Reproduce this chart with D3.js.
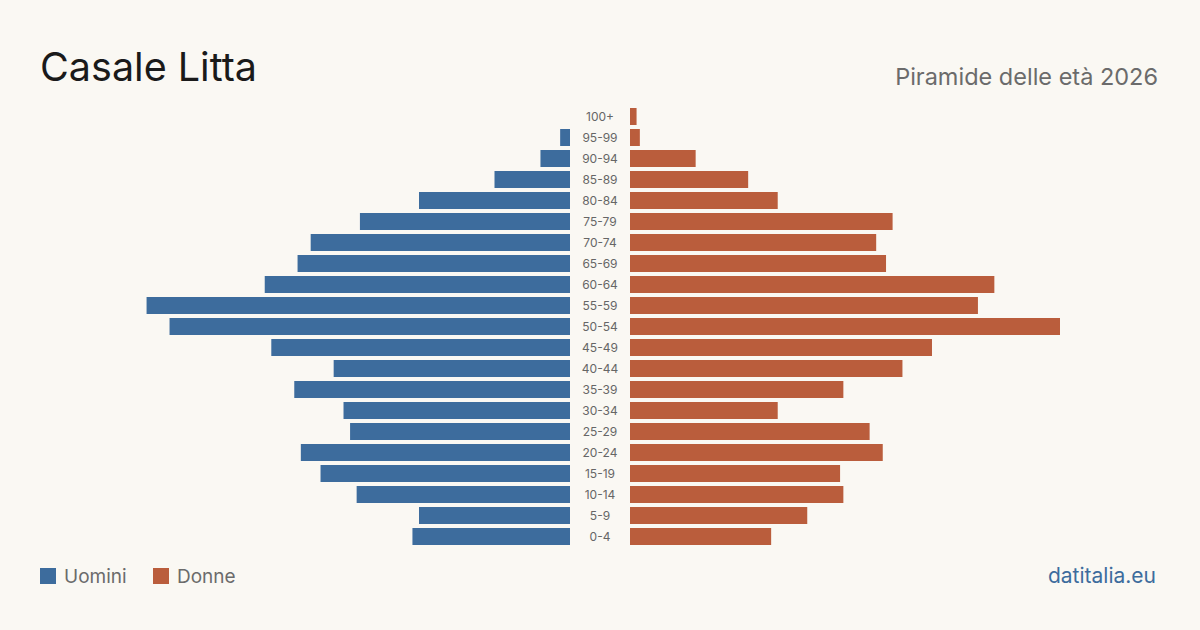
<!DOCTYPE html>
<html>
<head>
<meta charset="utf-8">
<script src="https://cdn.jsdelivr.net/npm/d3@7/dist/d3.min.js"></script>
<style>
  html, body { margin: 0; padding: 0; background: #faf8f3; }
  svg { display: block; }
  text { font-family: Inter, "Open Sans", sans-serif; }
</style>
</head>
<body>
<svg id="chart" width="1200" height="630"></svg>
<script>
const ages = ["100+","95-99","90-94","85-89","80-84","75-79","70-74","65-69","60-64","55-59","50-54","45-49","40-44","35-39","30-34","25-29","20-24","15-19","10-14","5-9","0-4"];
const maleValues = [0,3,9,23,46,64,79,83,93,129,122,91,72,84,69,67,82,76,65,46,48];
const femaleValues = [2,3,20,36,45,80,75,78,111,106,131,92,83,65,45,73,77,64,65,54,43];
const legendLabels = ["Uomini","Donne"];
const titleText = "Casale Litta";
const subtitleText = "Piramide delle età 2026";
const sourceText = "datitalia.eu";

const blue = "#3d6c9d", red = "#ba5d3c";
const svg = d3.select("#chart");
svg.append("rect").attr("width",1200).attr("height",630).attr("fill","#faf8f3");

const maxV = d3.max([...maleValues, ...femaleValues]);
const xL = d3.scaleLinear().domain([0, maxV]).range([570, 140]);
const xR = d3.scaleLinear().domain([0, maxV]).range([630, 1060]);
const y = d3.scaleBand().domain(ages).range([106, 547]).paddingInner(4/21).paddingOuter(2/21);

svg.append("g").selectAll("rect").data(ages).join("rect")
  .attr("x", (d,i) => xL(maleValues[i]))
  .attr("y", d => y(d))
  .attr("width", (d,i) => xL(0) - xL(maleValues[i]))
  .attr("height", y.bandwidth())
  .attr("fill", blue);

svg.append("g").selectAll("rect").data(ages).join("rect")
  .attr("x", xR(0))
  .attr("y", d => y(d))
  .attr("width", (d,i) => xR(femaleValues[i]) - xR(0))
  .attr("height", y.bandwidth())
  .attr("fill", red);

svg.append("g").selectAll("text").data(ages).join("text")
  .attr("x", 600)
  .attr("y", d => y(d) + y.bandwidth()/2)
  .attr("dy", "0.35em")
  .attr("text-anchor", "middle")
  .attr("font-size", 12)
  .attr("fill", "#666")
  .text(d => d);

svg.append("text").attr("x", 40).attr("y", 81)
  .attr("font-size", 39.5).attr("fill", "#1a1a1a").text(titleText);

svg.append("text").attr("x", 1158).attr("y", 85).attr("text-anchor","end")
  .attr("font-size", 23.5).attr("fill", "#6b6b6b").text(subtitleText);

const legX = [40, 153];
const legC = [blue, red];
legendLabels.forEach((l, i) => {
  svg.append("rect").attr("x", legX[i]).attr("y", 568).attr("width", 16).attr("height", 16).attr("fill", legC[i]);
  svg.append("text").attr("x", legX[i] + 24).attr("y", 583)
    .attr("font-size", 19).attr("fill", "#6b6b6b").text(l);
});

svg.append("text").attr("x", 1156).attr("y", 583).attr("text-anchor","end")
  .attr("font-size", 21).attr("fill", "#3d6c9d").text(sourceText);
</script>
</body>
</html>
